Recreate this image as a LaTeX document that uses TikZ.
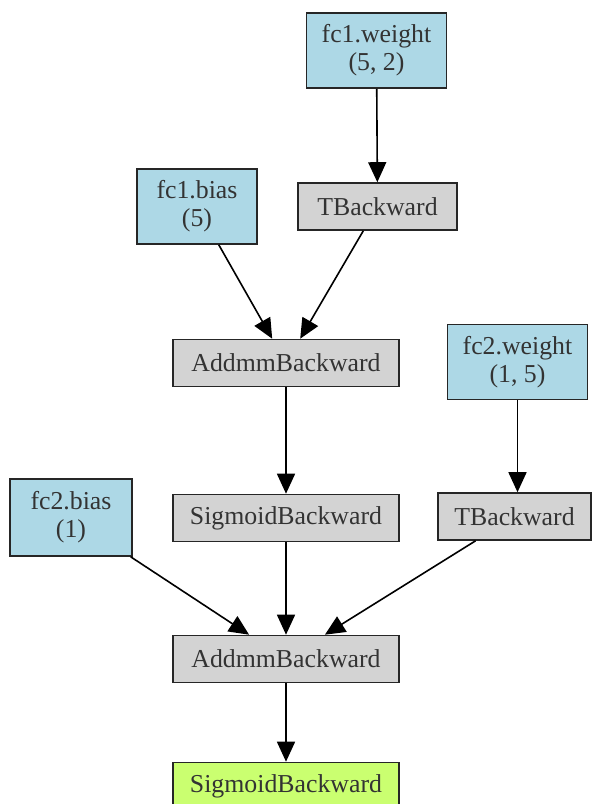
\documentclass[tikz,border=0pt]{standalone}
\usepackage{fontspec}
\setmainfont{Liberation Serif}
\usetikzlibrary{arrows.meta}
\usetikzlibrary{positioning}

\begin{document}
\begin{tikzpicture} [
    x=0.5pt, y=-0.5pt,
    param/.style={rectangle, draw=black!85, line width=0.8pt, fill=paramblue, align=center,
                  font=\fontsize{12.9}{14}\selectfont, text=black!80, minimum width=70pt, minimum height=37.5pt, inner sep=0pt},
    func/.style={rectangle, draw=black!85, line width=0.8pt, fill=funcgrey, text=black!80,
                 font=\fontsize{12.9}{14}\selectfont, minimum height=23.5pt, inner sep=0pt},
    result/.style={func, fill=resultgreen},
    >={Triangle[length=10pt,width=9pt]}
    ]
    \definecolor{paramblue}{HTML}{ADD8E6}
    \definecolor{funcgrey}{HTML}{D3D3D3}
    \definecolor{resultgreen}{HTML}{CAFF70}
    \useasboundingbox[fill=white] (0,0) rectangle (592,804);
    %Nodes
    \node[param]                          (w1)   at (376.5,50.5)  {fc1.weight\\(5, 2)};
    \node[func, minimum width=79.5pt]     (t1)   at (377.5,206.5) {TBackward};
    \node[param, minimum width=60pt]      (b1)   at (197,206.5)   {fc1.bias\\(5)};
    \node[func, minimum width=113pt]      (a1)   at (286,363)     {AddmmBackward};
    \node[param]                          (w2)   at (517.5,362)   {fc2.weight\\(1, 5)};
    \node[func, minimum width=113pt]      (s1)   at (286,518)     {SigmoidBackward};
    \node[func, minimum width=76.5pt]     (t2)   at (514.5,516.5) {TBackward};
    \node[param, minimum width=61pt, minimum height=38.5pt] (b2) at (71,517.5) {fc2.bias\\(1)};
    \node[func, minimum width=113pt]      (a2)   at (286,659)     {AddmmBackward};
    \node[result, minimum width=113pt]    (out)  at (286,786)     {SigmoidBackward};
    %Lines
    \begin{scope}[line width=0.8pt]
    \draw[->] (w1) -- (t1);
    \draw[->] (b1) -- (a1);
    \draw[->] (t1) -- (a1);
    \draw[->] (a1) -- (s1);
    \draw[->] (w2.south) -- (w2.south |- t2.north);
    \draw[->] (b2) -- (a2);
    \draw[->] (s1) -- (a2);
    \draw[->] (t2) -- (a2);
    \draw[->] (a2) -- (out);
    \end{scope}
\end{tikzpicture}
\end{document}
